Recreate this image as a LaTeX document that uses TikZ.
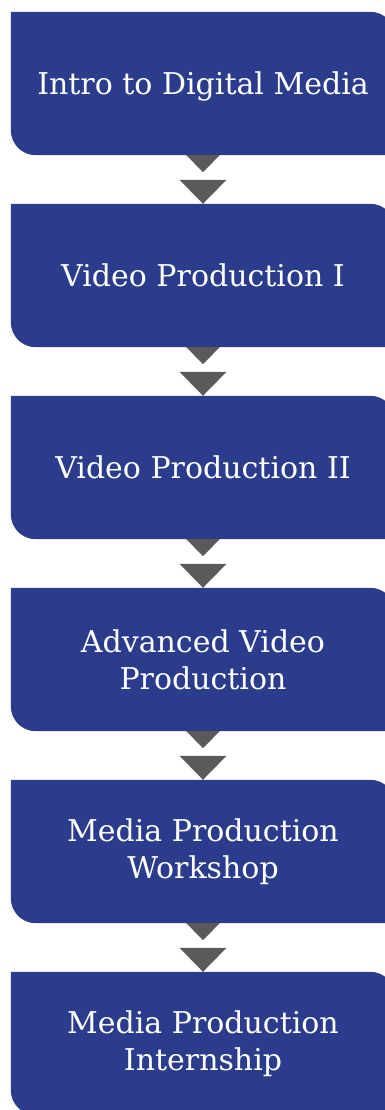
\documentclass[tikz,border=0pt]{standalone}
\usepackage{fontspec}
\setmainfont{DejaVu Serif}
\usetikzlibrary{backgrounds,calc}
\definecolor{courseblue}{HTML}{2C3C8C}
\definecolor{arrowgray}{HTML}{5A5A5A}
\tikzset{
	course/.style={text=white, align=center, inner sep=0pt,
		minimum width=384pt, minimum height=143pt,
		font=\fontsize{30}{37}\selectfont},
	oneline/.style={course, text depth=0pt},
}

\begin{document}
\begin{tikzpicture}[x=1pt,y=1pt]
		\useasboundingbox (0,0) rectangle (384,-1110);
		\node[oneline] (c1) at (203,-83.5) {Intro to Digital Media};
		\node[oneline] (c2) at (203,-275.5) {Video Production I};
		\node[oneline] (c3) at (203,-467.5) {Video Production II};
		\node[course] (c4) at (203,-659.5) {Advanced Video\\Production};
		\node[course] (c5) at (203,-851.5) {Media Production\\Workshop};
		\node[course] (c6) at (203,-1043.5) {Media Production\\Internship};
		\begin{scope}[on background layer]
			% double arrow heads between the courses
			\foreach \i/\j in {1/2,2/3,3/4,4/5,5/6} {
				\fill[arrowgray] ($(c\i.south)+(-23.5,7)$) -- ($(c\i.south)+(23.5,7)$) -- ($(c\i.south)+(0,-17)$) -- cycle;
				\fill[arrowgray] ($(c\j.north)+(-23.5,24)$) -- ($(c\j.north)+(23.5,24)$) -- (c\j.north) -- cycle;
			}
			% boxes, two corners rounded
			\foreach \i in {1,...,6}
				\fill[courseblue] (c\i.north west) -- ([xshift=-25pt]c\i.north east) arc[start angle=90,end angle=0,radius=25pt] -- (c\i.south east) -- ([xshift=25pt]c\i.south west) arc[start angle=270,end angle=180,radius=25pt] -- cycle;
		\end{scope}
	\end{tikzpicture}
\end{document}
